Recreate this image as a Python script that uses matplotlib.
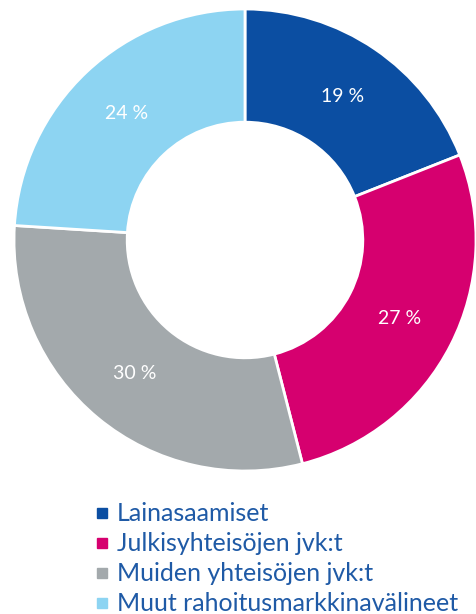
import matplotlib.pyplot as plt
from matplotlib.lines import Line2D

labels = ["Lainasaamiset", "Julkisyhteisöjen jvk:t", "Muiden yhteisöjen jvk:t", "Muut rahoitusmarkkinavälineet"]
shares = [19, 27, 30, 24]
colors = ["#0B4EA2", "#D6006F", "#A3A9AC", "#8DD4F2"]

plt.rcParams['font.family'] = ['Lato', 'DejaVu Sans']

fig = plt.figure(figsize=(4.77, 6.14), dpi=100)
# donut centre at about (245, 240) px, outer radius about 231 px
ax = fig.add_axes([(245 - 231) / 477, (374 - 231) / 614, 462 / 477, 462 / 614])

wedges, texts = ax.pie(shares, colors=colors, startangle=90, counterclock=False,
                       radius=1.0, labels=[f"{s} %" for s in shares], labeldistance=0.75,
                       wedgeprops=dict(width=0.49, edgecolor="white", linewidth=2),
                       textprops=dict(color="white", fontsize=14))
for t in texts:
    t.set_ha("center")
    t.set_va("center")
ax.set_xlim(-1, 1)
ax.set_ylim(-1, 1)
ax.set_aspect("equal")
ax.axis("off")

handles = [Line2D([], [], marker="s", linestyle="none", markersize=7.2,
                  markerfacecolor=c, markeredgecolor=c) for c in colors]
leg = fig.legend(handles, labels, loc="upper left", bbox_to_anchor=(0.198, 0.182),
                 frameon=False, fontsize=18, handlelength=0.6, handletextpad=0.3,
                 labelspacing=0.28, borderaxespad=0, borderpad=0)
for t in leg.get_texts():
    t.set_color("#1F5AA6")

fig.savefig("out.png", dpi=100)
